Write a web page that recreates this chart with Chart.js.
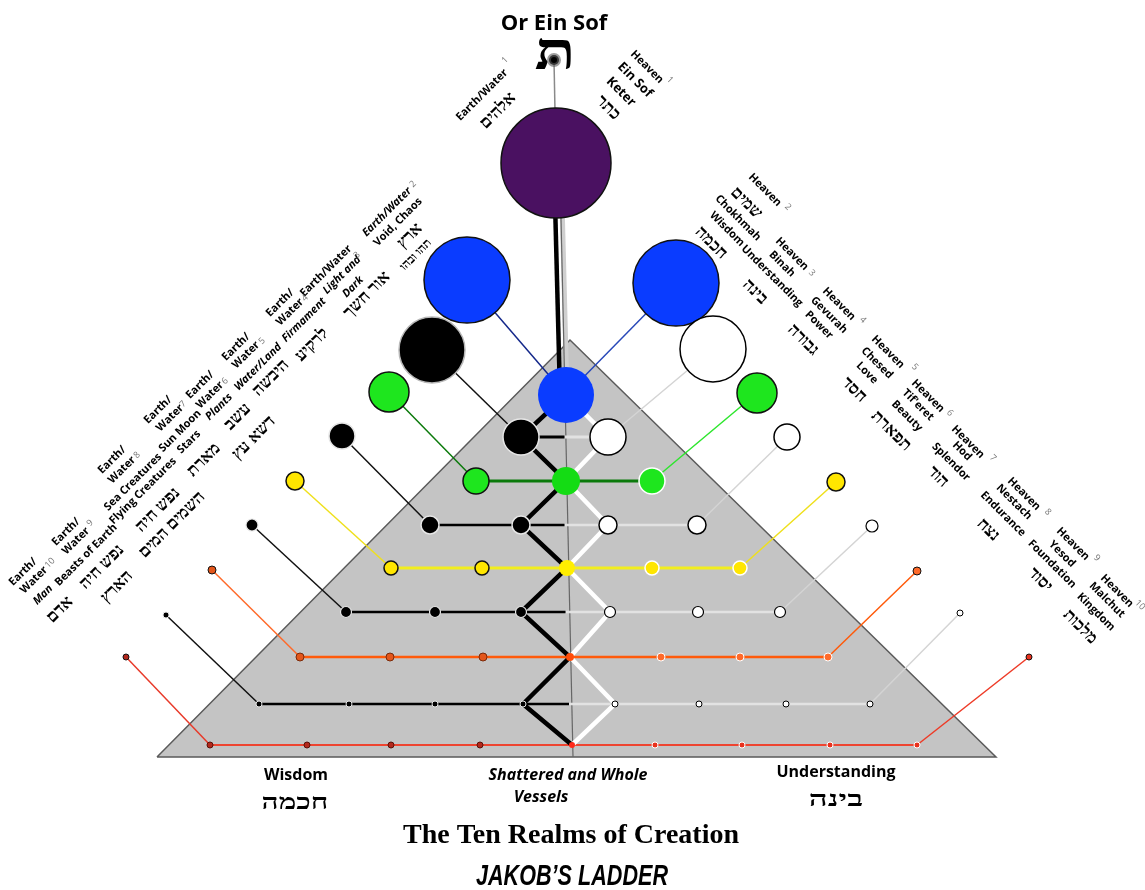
<!DOCTYPE html>
<html>
<head>
<meta charset="utf-8">
<script src="https://cdn.jsdelivr.net/npm/chart.js@4.4.1/dist/chart.umd.min.js"></script>
<style>
  html, body { margin: 0; padding: 0; background: #fff; }
  canvas { display: block; }
</style>
</head>
<body>
<canvas id="ladder" width="1145" height="890"></canvas>
<script>
// ---- data (in picture units) ----
const rows = [1, 2, 3, 4, 5, 6, 7, 8, 9, 10];
const rowY = [163, 395, 437, 481, 525, 568, 612, 657, 704, 745];
const innerX = [
  [556],
  [566],
  [521, 608],
  [476, 566, 652],
  [430, 521, 608, 697],
  [391, 482, 567, 652, 740],
  [346, 435, 521, 610, 698, 780],
  [300, 390, 483, 570, 661, 740, 828],
  [259, 349, 435, 523, 615, 699, 786, 870],
  [210, 307, 391, 480, 572, 655, 742, 830, 917]
];
const outerLeftX  = [null, 467, 432, 389, 342, 295, 252, 212, 166, 126];
const outerLeftY  = [null, 280, 350, 392, 436, 481, 525, 570, 615, 657];
const outerRightX = [null, 676, 713, 757, 787, 836, 872, 917, 960, 1029];
const outerRightY = [null, 283, 349, 393, 437, 482, 526, 571, 613, 657];
const pyramidX = [157, 570, 996, 157];
const pyramidY = [757, 340, 757, 757];
const trunkX = [554, 560];
const trunkY = [163, 395];
const axisX = [561, 573];
const axisY = [218, 757];
const sourceX = [554];
const sourceY = [60];

const earthText = [
  ['Earth/Water', 'אלהים'],
  ['Earth/Water', 'Void, Chaos', 'ארץ', 'תהו ובהו'],
  ['Earth/Water', 'Light and', 'Dark', 'אור חשך'],
  ['Earth/', 'Water', 'Firmament', 'לרקיע'],
  ['Earth/', 'Water', 'Water/Land', 'היבשה'],
  ['Earth/', 'Water', 'Plants', 'עשב', 'דשא עץ'],
  ['Earth/', 'Water', 'Sun Moon', 'Stars', 'מארת'],
  ['Earth/', 'Water', 'Sea Creatures', 'Flying Creatures', 'נפש חיה', 'השמים המים'],
  ['Earth/', 'Water', 'Beasts of Earth', 'נפש חיה', 'הארץ'],
  ['Earth/', 'Water', 'Man', 'אדם']
];
const heavenText = [
  ['Heaven', 'Ein Sof', 'Keter', 'כתר'],
  ['Heaven', 'שמים', 'Chokhmah', 'Wisdom', 'חכמה'],
  ['Heaven', 'Binah', 'Understanding', 'בינה'],
  ['Heaven', 'Gevurah', 'Power', 'גבורה'],
  ['Heaven', 'Chesed', 'Love', 'חסד'],
  ['Heaven', "Tif'eret", 'Beauty', 'תפארת'],
  ['Heaven', 'Hod', 'Splendor', 'הוד'],
  ['Heaven', 'Nestach', 'Endurance', 'נצח'],
  ['Heaven', 'Yesod', 'Foundation', 'יסוד'],
  ['Heaven', 'Malchut', 'Kingdom', 'מלכות']
];
const captionText = ['Or Ein Sof', 'ת', 'Wisdom', 'חכמה', 'Shattered and Whole', 'Vessels',
  'Understanding', 'בינה', 'The Ten Realms of Creation', 'JAKOB’S LADDER'];

// ---- layout / styles ----
const earthAt = [
  [[482, 95, 'tag'], [498, 111, 'heb']],
  [[387, 212, 'tagI'], [398, 222, 'desc'], [410, 236, 'heb'], [416, 255, 'hebS']],
  [[326, 271, 'tag'], [342, 275, 'descI'], [353, 287, 'descI'], [367, 295, 'heb']],
  [[280, 303, 'tag'], [290, 312, 'tag'], [304, 320, 'descI'], [312, 345, 'heb']],
  [[236, 347, 'tag'], [246, 355, 'tag'], [258, 367, 'descI'], [271, 378, 'heb']],
  [[200, 385, 'tag'], [210, 395, 'tag'], [219, 407, 'descI'], [238, 417, 'heb'], [254, 438, 'heb']],
  [[158, 410, 'tag'], [170, 418, 'tag'], [180, 431, 'desc'], [189, 442, 'desc'], [204, 460, 'heb']],
  [[112, 460, 'tag'], [122, 470, 'tag'], [133, 482, 'desc'], [143, 491, 'desc'], [158, 510, 'heb'], [172, 525, 'heb']],
  [[66, 532, 'tag'], [76, 541, 'tag'], [86, 555, 'desc'], [102, 567, 'heb'], [117, 587, 'heb']],
  [[23, 572, 'tag'], [34, 580, 'tag'], [43, 595, 'descI'], [60, 610, 'heb']]
];
const earthSupAt = [[505, 60], [413, 184], [357, 255], [305, 298], [262, 341], [225, 381], [183, 404], [137, 455], [90, 523], [50, 563]];
const heavenAt = [
  [[647, 67, 'tag'], [635, 80, 'name'], [621, 92, 'name'], [608, 108, 'heb']],
  [[765, 190, 'tag'], [746, 203, 'heb'], [738, 218, 'desc'], [727, 229, 'desc'], [711, 243, 'heb']],
  [[792, 254, 'tag'], [782, 264, 'desc'], [772, 276, 'desc'], [755, 292, 'heb']],
  [[839, 304, 'tag'], [829, 315, 'desc'], [819, 325, 'desc'], [803, 340, 'heb']],
  [[888, 352, 'tag'], [877, 363, 'desc'], [867, 373, 'desc'], [854, 390, 'heb']],
  [[928, 396, 'tag'], [918, 405, 'desc'], [907, 416, 'desc'], [891, 431, 'heb']],
  [[968, 442, 'tag'], [962, 451, 'desc'], [951, 462, 'desc'], [938, 477, 'heb']],
  [[1024, 494, 'tag'], [1014, 502, 'desc'], [1003, 514, 'desc'], [988, 530, 'heb']],
  [[1073, 544, 'tag'], [1062, 554, 'desc'], [1052, 564, 'desc'], [1040, 580, 'heb']],
  [[1117, 591, 'tag'], [1107, 600, 'desc'], [1096, 612, 'desc'], [1080, 627, 'heb']]
];
const heavenSupAt = [[670, 80], [788, 207], [812, 273], [863, 320], [915, 367], [950, 413], [993, 458], [1048, 512], [1097, 558], [1140, 605]];
const captionAt = [
  [554, 24, 'bold 22px "Open Sans"', 1],
  [555, 56, 'bold 52px "Liberation Serif", "DejaVu Sans"', 1.3],
  [296, 775, 'bold 16px "Open Sans"', 1],
  [295, 803, 'bold 22px "Liberation Serif", "DejaVu Sans"', 1.35],
  [568, 775, 'italic bold 16px "Open Sans"', 1],
  [541, 797, 'italic bold 16px "Open Sans"', 1],
  [836, 772, 'bold 16px "Open Sans"', 1],
  [836, 800, 'bold 22px "Liberation Serif", "DejaVu Sans"', 1.5],
  [571, 836, 'bold 28px "Liberation Serif"', 1],
  [572, 877, 'italic bold 30px "Liberation Sans"', 0.72]
];
const fonts = {
  tag:   'bold 11px "Open Sans"',
  tagI:  'italic bold 11px "Open Sans"',
  desc:  'bold 11px "Open Sans"',
  descI: 'italic bold 11px "Open Sans"',
  name:  'bold 13px "Open Sans"',
  heb:   'bold 17px "Liberation Serif", "DejaVu Sans"',
  hebS:  'bold 12px "Liberation Serif", "DejaVu Sans"'
};

const BW = { fillL: '#000000', fillC: '#000000', fillR: '#ffffff', edgeL: '#e6e6e6', edgeR: '#000000',
  lineL: '#000000', lineR: '#e2e2e2', linkL: '#111111', linkR: '#d4d4d4' };
const rowStyle = [
  { fillL: '#4a1161', fillC: '#4a1161', fillR: '#4a1161', edgeL: '#111', edgeR: '#111', edgeC: '#111', inR: 55, outR: 0, lineW: 0, edgeW: 1.5 },
  { fillL: '#0a3cff', fillC: '#0a3cff', fillR: '#0a3cff', edgeL: '#111', edgeR: '#111', inR: 28, outR: 43, lineW: 0, linkL: '#14288a', linkR: '#2848b8', edgeW: 1.5 },
  Object.assign({}, BW, { inR: 18, outR: 33, lineW: 3, edgeW: 1.5, edgeOL: '#b8b8b8' }),
  { fillL: '#1ee61e', fillC: '#14dc14', fillR: '#1ee61e', edgeL: '#111', edgeR: '#fff', inR: 13, outR: 20, cR: 14,
    lineL: '#0b7a0b', lineR: '#0b7a0b', lineW: 3, linkL: '#0b7a0b', linkR: '#2ee62e', edgeW: 1.5 },
  Object.assign({}, BW, { inR: 9, outR: 13, lineW: 2.5, edgeW: 1.5 }),
  { fillL: '#ffe600', fillC: '#ffee00', fillR: '#ffe600', edgeL: '#111', edgeR: '#fff', inR: 7, outR: 9, cR: 8,
    lineL: '#f2ee1e', lineR: '#f2ee1e', lineW: 3, linkL: '#efe01c', linkR: '#efe01c', edgeW: 1.5 },
  Object.assign({}, BW, { inR: 5.5, outR: 6, lineW: 2.5, edgeW: 1.2 }),
  { fillL: '#e3561a', fillC: '#ff4d0a', fillR: '#ff6a2a', edgeL: '#7a2a0a', edgeR: '#fff', inR: 4, outR: 4,
    lineL: '#ff5a0a', lineR: '#ff5a0a', lineW: 2.5, linkL: '#ff6a2a', linkR: '#ff5a0a', edgeW: 1 },
  Object.assign({}, BW, { inR: 3, outR: 3, lineW: 2.5, edgeW: 1 }),
  { fillL: '#b3281c', fillC: '#ff2a1a', fillR: '#e8321e', edgeL: '#5a1008', edgeR: '#fff', inR: 3, outR: 3,
    lineL: '#ee4430', lineR: '#ee4430', lineW: 2, linkL: '#e83a2a', linkR: '#ee3a26', edgeW: 1 }
];

const pts = (xs, ys) => xs.map((x, k) => ({ x: x, y: ys[k] }));
function path(points, color, width, extra) {
  return Object.assign({ data: points, showLine: true, borderColor: color, borderWidth: width,
    pointRadius: 0, pointHoverRadius: 0, fill: false, tension: 0, clip: false }, extra || {});
}
function midOf(xs) {
  const n = xs.length;
  return n % 2 ? xs[(n - 1) / 2] : (xs[n / 2 - 1] + xs[n / 2]) / 2;
}

// ---- build layers, bottom first ----
const layers = [];
layers.push(path(pts(pyramidX, pyramidY), '#5a5a5a', 1.5,
  { fill: 'shape', backgroundColor: '#c4c4c4' }));
layers.push(path(pts([sourceX[0], innerX[0][0]], [sourceY[0], rowY[0]]), '#8a8a8a', 1.5));
layers.push(path(pts(trunkX.map(x => x + 7), trunkY), '#cfcfcf', 5));
layers.push(path(pts(trunkX, trunkY), '#000', 4.5));
layers.push(path(pts(axisX, axisY), '#666', 1.2));

// diagonal links from outer nodes
rows.forEach((r, i) => {
  if (outerLeftX[i] == null) return;
  const st = rowStyle[i], xs = innerX[i];
  layers.push(path(pts([outerLeftX[i], xs[0]], [outerLeftY[i], rowY[i]]), st.linkL, 1.5));
  layers.push(path(pts([outerRightX[i], xs[xs.length - 1]], [outerRightY[i], rowY[i]]), st.linkR, 1.5));
});

// horizontal rungs
rows.forEach((r, i) => {
  const st = rowStyle[i], xs = innerX[i];
  if (!st.lineW || xs.length < 2) return;
  const m = midOf(xs);
  if (st.lineL === st.lineR) {
    layers.push(path(pts([xs[0], xs[xs.length - 1]], [rowY[i], rowY[i]]), st.lineL, st.lineW));
  } else {
    layers.push(path(pts([m, xs[xs.length - 1]], [rowY[i], rowY[i]]), st.lineR, st.lineW));
    layers.push(path(pts([xs[0], m], [rowY[i], rowY[i]]), st.lineL, st.lineW));
  }
});

// shattered (black) and whole (white) zig-zag vessels
const zigBlack = [], zigWhite = [];
rows.forEach((r, i) => {
  if (i === 0) return;
  const xs = innerX[i], m = midOf(xs);
  zigBlack.push({ x: Math.max(...xs.filter(x => x <= m)), y: rowY[i] });
  zigWhite.push({ x: Math.min(...xs.filter(x => x >= m)), y: rowY[i] });
});
layers.push(path(zigWhite, '#ffffff', 4.5));
layers.push(path(zigBlack, '#000000', 4.5));

// nodes
const nodePts = [], nodeR = [], nodeFill = [], nodeEdge = [], nodeEdgeW = [];
function addNode(x, y, r, fill, edge, w) {
  nodePts.push({ x: x, y: y }); nodeR.push(r); nodeFill.push(fill); nodeEdge.push(edge); nodeEdgeW.push(w);
}
rows.forEach((r, i) => {
  const st = rowStyle[i], xs = innerX[i], m = midOf(xs);
  if (outerLeftX[i] != null) {
    addNode(outerLeftX[i], outerLeftY[i], st.outR, st.fillL, st.edgeOL || (st.fillL === '#000000' ? '#e6e6e6' : '#111'), st.edgeW);
    addNode(outerRightX[i], outerRightY[i], st.outR, st.fillR, st.fillR === '#ffffff' ? '#000' : '#111', st.edgeW);
  }
  xs.forEach(x => {
    if (Math.abs(x - m) < 0.5) {
      addNode(x, rowY[i], st.cR || st.inR, st.fillC, st.edgeC || st.fillC, st.edgeC ? st.edgeW : 0);
    } else if (x < m) {
      addNode(x, rowY[i], st.inR, st.fillL, st.edgeL, st.edgeW);
    } else {
      addNode(x, rowY[i], st.inR, st.fillR, st.edgeR, st.edgeW);
    }
  });
});
layers.push({ data: nodePts, showLine: false, clip: false, pointRadius: nodeR, pointHoverRadius: nodeR,
  pointBackgroundColor: nodeFill, pointBorderColor: nodeEdge, pointBorderWidth: nodeEdgeW, pointHoverBorderWidth: nodeEdgeW });
layers.push({ data: pts(sourceX, sourceY), showLine: false, clip: false, pointRadius: 5, pointHoverRadius: 5,
  pointBackgroundColor: '#000', pointBorderColor: 'rgba(90,90,90,0.6)', pointBorderWidth: 4 });

layers.forEach((d, k) => { d.order = layers.length - k; });

// ---- text plugin ----
const ladderText = {
  id: 'ladderText',
  afterDatasetsDraw(chart) {
    const ctx = chart.ctx, sx = chart.scales.x, sy = chart.scales.y;
    function put(txt, x, y, font, angle, color, squeeze) {
      ctx.save();
      ctx.translate(sx.getPixelForValue(x), sy.getPixelForValue(y));
      ctx.rotate(angle * Math.PI / 180);
      if (squeeze && squeeze !== 1) ctx.scale(squeeze, 1);
      ctx.font = font;
      ctx.fillStyle = color || '#000';
      ctx.textAlign = 'center';
      ctx.textBaseline = 'middle';
      ctx.fillText(txt, 0, 0);
      ctx.restore();
    }
    earthText.forEach((lines, i) => {
      lines.forEach((t, j) => put(t, earthAt[i][j][0], earthAt[i][j][1], fonts[earthAt[i][j][2]], -45));
      put(String(rows[i]), earthSupAt[i][0], earthSupAt[i][1], '9px "Open Sans"', -45, '#777');
    });
    heavenText.forEach((lines, i) => {
      lines.forEach((t, j) => put(t, heavenAt[i][j][0], heavenAt[i][j][1], fonts[heavenAt[i][j][2]], 45));
      put(String(rows[i]), heavenSupAt[i][0], heavenSupAt[i][1], '9px "Open Sans"', 45, '#777');
    });
    captionText.forEach((t, i) => {
      const c = captionAt[i];
      put(t, c[0], c[1], c[2], 0, '#000', c[3]);
    });
  }
};

new Chart(document.getElementById('ladder'), {
  type: 'line',
  data: { datasets: layers },
  options: {
    responsive: false,
    devicePixelRatio: 1,
    animation: false,
    events: [],
    layout: { padding: 0, autoPadding: false },
    plugins: { legend: { display: false }, tooltip: { enabled: false }, filler: { propagate: false } },
    scales: {
      x: { type: 'linear', min: 0, max: 1145, display: false },
      y: { type: 'linear', min: 0, max: 890, reverse: true, display: false }
    }
  },
  plugins: [ladderText]
});
</script>
</body>
</html>
